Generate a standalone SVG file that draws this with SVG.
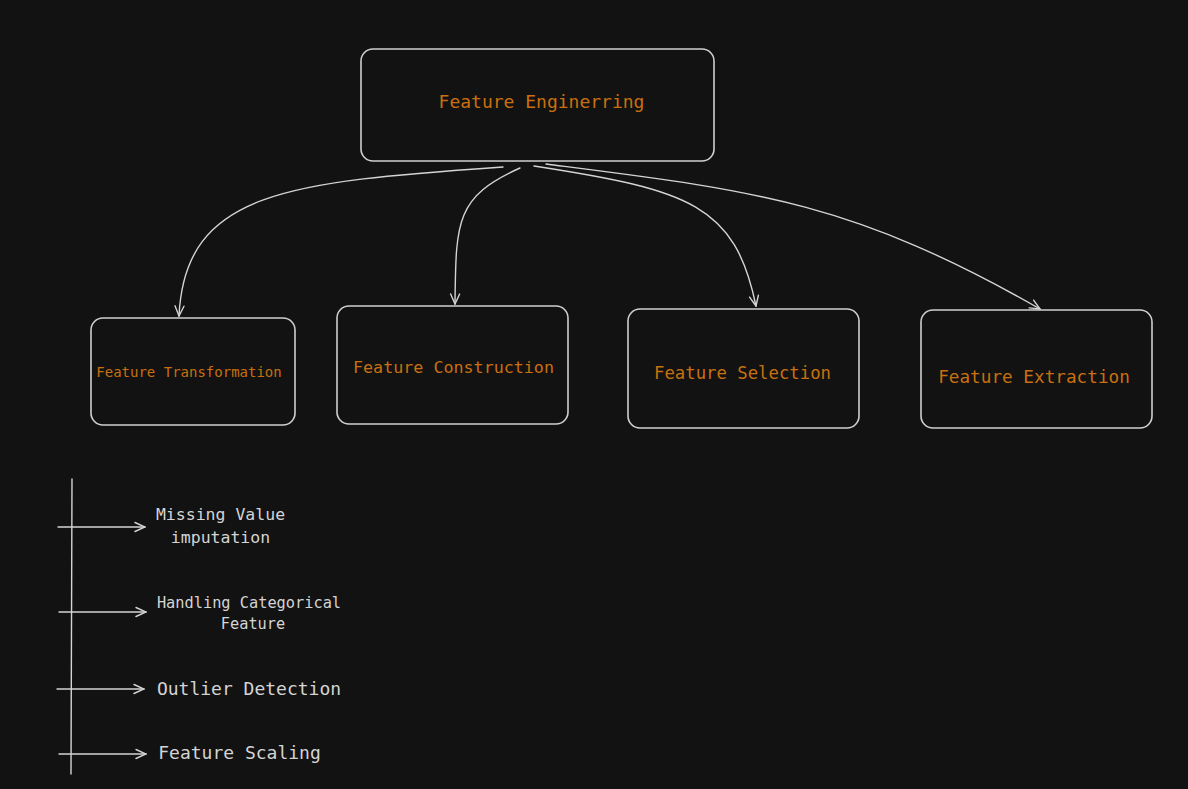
<svg xmlns="http://www.w3.org/2000/svg" width="1188" height="789" viewBox="0 0 1188 789">
<style>
.box{fill:#121212;stroke:#cfcfcf;stroke-width:1.6}
.lbl{font-family:"DejaVu Sans Mono","Liberation Mono",monospace;fill:#c8700f;text-anchor:middle}
.txt{font-family:"DejaVu Sans Mono","Liberation Mono",monospace;fill:#d4d4d4;text-anchor:middle}
.con{fill:none;stroke:#d4d4d4;stroke-width:1.4;stroke-linecap:round}
</style>
<defs>
<marker id="arr" viewBox="0 0 12 12" refX="11" refY="6" markerWidth="12" markerHeight="12" markerUnits="userSpaceOnUse" orient="auto">
<path d="M1,1.5 L11,6 L1,10.5" fill="none" stroke="#d4d4d4" stroke-width="1.4" stroke-linecap="round"/>
</marker>
</defs>
<rect width="1188" height="789" fill="#121212"/>
<g id="connectors">
<path class="con" d="M503,167 C290,182 185,190 179,316" marker-end="url(#arr)"/>
<path class="con" d="M520,168 C455,197 456,222 455,304" marker-end="url(#arr)"/>
<path class="con" d="M534,166 C690,190 735,205 756,306" marker-end="url(#arr)"/>
<path class="con" d="M546,164 C750,190 850,200 1040,309" marker-end="url(#arr)"/>
<path class="con" d="M72,479 L71,774"/>
<path class="con" d="M58,527 L145,527" marker-end="url(#arr)"/>
<path class="con" d="M59,612 L146,612" marker-end="url(#arr)"/>
<path class="con" d="M57,689 L144,689" marker-end="url(#arr)"/>
<path class="con" d="M59,754 L146,754" marker-end="url(#arr)"/>
</g>
<g id="feature-engineering">
<rect class="box" x="361" y="49" width="353" height="112" rx="12"/>
<text class="lbl" x="541.5" y="108" font-size="18">Feature Enginerring</text>
</g>
<g id="feature-transformation">
<rect class="box" x="91" y="318" width="204" height="107" rx="12"/>
<text class="lbl" x="189" y="377" font-size="14">Feature Transformation</text>
</g>
<g id="feature-construction">
<rect class="box" x="337" y="306" width="231" height="118" rx="12"/>
<text class="lbl" x="453.5" y="373" font-size="16.7">Feature Construction</text>
</g>
<g id="feature-selection">
<rect class="box" x="628" y="309" width="231" height="119" rx="12"/>
<text class="lbl" x="742.5" y="379" font-size="17.3">Feature Selection</text>
</g>
<g id="feature-extraction">
<rect class="box" x="921" y="310" width="231" height="118" rx="12"/>
<text class="lbl" x="1034" y="383" font-size="17.7">Feature Extraction</text>
</g>
<g id="missing-value">
<text class="txt" x="220.5" y="520" font-size="16.5">Missing Value</text>
<text class="txt" x="220.5" y="543" font-size="16.5">imputation</text>
</g>
<g id="handling-categorical">
<text class="txt" x="249" y="608" font-size="15.3">Handling Categorical</text>
<text class="txt" x="253" y="629" font-size="15.3">Feature</text>
</g>
<g id="outlier-detection">
<text class="txt" x="249" y="695" font-size="18">Outlier Detection</text>
</g>
<g id="feature-scaling">
<text class="txt" x="239.5" y="759" font-size="18">Feature Scaling</text>
</g>
</svg>
